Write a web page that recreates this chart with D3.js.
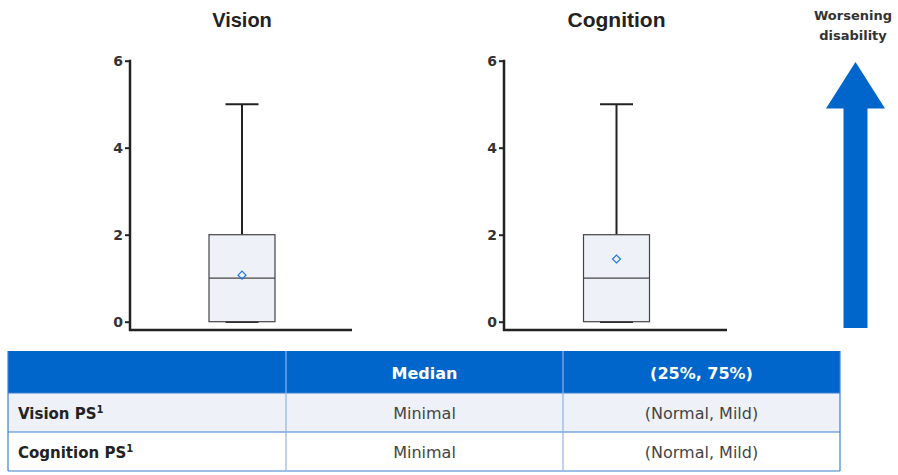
<!DOCTYPE html>
<html><head><meta charset="utf-8">
<script src="https://cdn.jsdelivr.net/npm/d3@7"></script>
<style>body{margin:0;background:#fff}svg{display:block}</style>
</head><body>
<svg id="c" width="898" height="475"></svg>
<script>
const panels = ["Vision", "Cognition"];
const minVals = [0, 0];
const q1Vals = [0, 0];
const medians = [1, 1];
const q3Vals = [2, 2];
const maxVals = [5, 5];
const means = [1.07, 1.44];
const yTicks = [0, 2, 4, 6];
const arrowLabel = ["Worsening", "disability"];
const tableHeader = ["", "Median", "(25%, 75%)"];
const rowLabels = ["Vision PS", "Cognition PS"];
const medianLabels = ["Minimal", "Minimal"];
const iqrLabels = ["(Normal, Mild)", "(Normal, Mild)"];

const svg = d3.select("#c");
const BLUE = "#0066CC";
const panelX = [[130, 352], [504, 727]];
const y = d3.scaleLinear().domain([0, 6]).range([321.7, 60.7]);

panels.forEach((name, i) => {
  const [x0, x1] = panelX[i];
  const x = d3.scaleBand().domain([name]).range([x0, x1]).paddingInner(0).paddingOuter(0);
  const cx = x(name) + x.bandwidth() / 2 + 1;
  const g = svg.append("g");
  g.append("text").attr("x", cx).attr("y", 27).attr("text-anchor", "middle")
    .attr("font-family", "Liberation Sans, Arial, sans-serif").attr("font-weight", "bold")
    .attr("font-size", i === 0 ? 20 : 21).attr("fill", "#222").text(name);
  const ax = g.append("g").attr("transform", `translate(${x0},0)`)
    .call(d3.axisLeft(y).tickValues(yTicks).tickSize(5).tickPadding(2).tickFormat(d3.format("d")));
  ax.select(".domain").remove();
  ax.selectAll(".tick line").attr("stroke", "#222").attr("stroke-width", 2);
  ax.selectAll(".tick text").attr("font-family", "DejaVu Sans, sans-serif")
    .attr("font-weight", "bold").attr("font-size", 14).attr("fill", "#333");
  g.append("line").attr("x1", x0).attr("x2", x0).attr("y1", y(6) - 1).attr("y2", 331)
    .attr("stroke", "#222").attr("stroke-width", 2.5);
  g.append("line").attr("x1", x0 - 1).attr("x2", x1).attr("y1", 330).attr("y2", 330)
    .attr("stroke", "#222").attr("stroke-width", 2.5);
  const bw = 66, cw = 33;
  g.append("line").attr("x1", cx).attr("x2", cx).attr("y1", y(maxVals[i])).attr("y2", y(q3Vals[i]))
    .attr("stroke", "#222").attr("stroke-width", 2);
  g.append("line").attr("x1", cx - cw / 2).attr("x2", cx + cw / 2).attr("y1", y(maxVals[i])).attr("y2", y(maxVals[i]))
    .attr("stroke", "#222").attr("stroke-width", 2);
  g.append("rect").attr("x", cx - bw / 2).attr("width", bw)
    .attr("y", y(q3Vals[i])).attr("height", y(q1Vals[i]) - y(q3Vals[i]))
    .attr("fill", "#EEF1F8").attr("stroke", "#444").attr("stroke-width", 1.2);
  g.append("line").attr("x1", cx - bw / 2).attr("x2", cx + bw / 2).attr("y1", y(medians[i])).attr("y2", y(medians[i]))
    .attr("stroke", "#444").attr("stroke-width", 1.2);
  g.append("line").attr("x1", cx - cw / 2).attr("x2", cx + cw / 2).attr("y1", y(minVals[i]) + 0.5).attr("y2", y(minVals[i]) + 0.5)
    .attr("stroke", "#333").attr("stroke-width", 1.5);
  g.append("path").attr("d", d3.symbol(d3.symbolDiamond2, 40)())
    .attr("transform", `translate(${cx},${y(means[i])})`)
    .attr("fill", "none").attr("stroke", "#1a73e8").attr("stroke-width", 1.2);
});

const ag = svg.append("g");
ag.selectAll("text").data(arrowLabel).join("text")
  .attr("x", 853).attr("y", (d, i) => 20 + i * 20).attr("text-anchor", "middle")
  .attr("font-family", "DejaVu Sans, sans-serif").attr("font-weight", "bold")
  .attr("font-size", 13).attr("fill", "#333").text(d => d);
ag.append("path").attr("d", "M855.5,62 L885,108.5 L867.5,108.5 L867.5,328 L843.5,328 L843.5,108.5 L826,108.5 Z")
  .attr("fill", BLUE);

const colX = [8, 286, 563, 840];
const rowY = [351, 393, 432, 471];
const tg = svg.append("g");
tg.append("rect").attr("x", colX[0]).attr("y", rowY[0]).attr("width", colX[3] - colX[0]).attr("height", rowY[1] - rowY[0]).attr("fill", BLUE);
tg.append("rect").attr("x", colX[0]).attr("y", rowY[1]).attr("width", colX[3] - colX[0]).attr("height", rowY[2] - rowY[1]).attr("fill", "#EEF1F8");
tg.append("rect").attr("x", colX[0]).attr("y", rowY[2]).attr("width", colX[3] - colX[0]).attr("height", rowY[3] - rowY[2]).attr("fill", "#fff");
rowY.slice(1).forEach(yy => tg.append("line").attr("x1", colX[0]).attr("x2", colX[3]).attr("y1", yy).attr("y2", yy).attr("stroke", "#3D7FD0").attr("stroke-width", 1.2));
colX.forEach((xx, j) => tg.append("line").attr("x1", xx).attr("x2", xx).attr("y1", rowY[0]).attr("y2", rowY[3])
  .attr("stroke", j === 0 || j === 3 ? "#3D7FD0" : "#8FB5E6").attr("stroke-width", 1.2));
const font = "DejaVu Sans, sans-serif";
tableHeader.forEach((h, j) => {
  if (!h) return;
  tg.append("text").attr("x", (colX[j] + colX[j + 1]) / 2).attr("y", rowY[0] + 28).attr("text-anchor", "middle")
    .attr("font-family", font).attr("font-weight", "bold").attr("font-size", 16).attr("fill", "#fff").text(h);
});
rowLabels.forEach((lab, r) => {
  const base = rowY[r + 1] + 26;
  const t = tg.append("text").attr("x", 18).attr("y", base).attr("font-family", font)
    .attr("font-weight", "bold").attr("font-size", 15).attr("fill", "#222");
  t.append("tspan").text(lab);
  t.append("tspan").attr("font-size", 10).attr("dy", -6).text("1");
  tg.append("text").attr("x", (colX[1] + colX[2]) / 2).attr("y", base).attr("text-anchor", "middle")
    .attr("font-family", font).attr("font-size", 16).attr("fill", "#444").text(medianLabels[r]);
  tg.append("text").attr("x", (colX[2] + colX[3]) / 2).attr("y", base).attr("text-anchor", "middle")
    .attr("font-family", font).attr("font-size", 16).attr("fill", "#444").text(iqrLabels[r]);
});
</script>
</body></html>
